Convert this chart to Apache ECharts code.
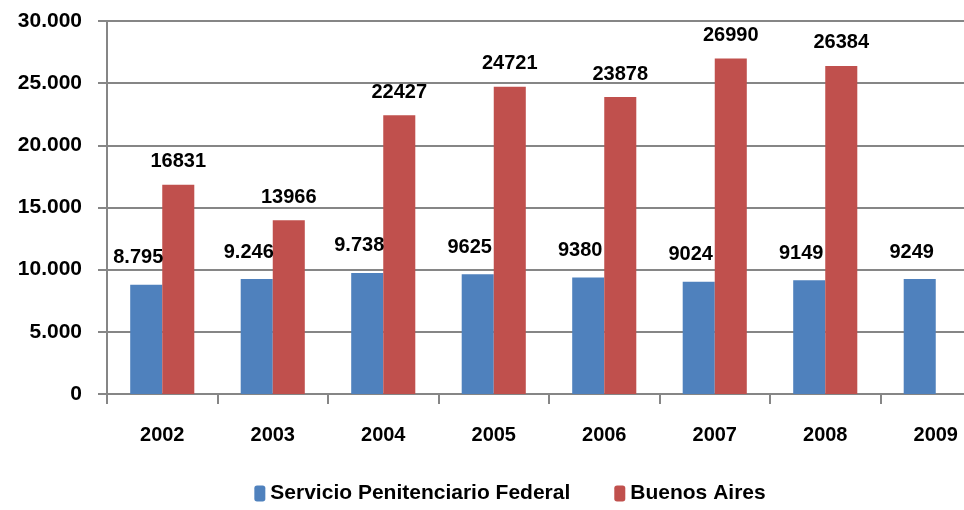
<!DOCTYPE html>
<html>
<head>
<meta charset="utf-8">
<script src="https://cdn.jsdelivr.net/npm/echarts@6/dist/echarts.min.js"></script>
<style>
  html, body { margin: 0; padding: 0; background: #fff; overflow: hidden; }
  #chart { width: 1020px; height: 510px; }
</style>
</head>
<body>
<div id="chart"></div>
<script>
const years = ['2002', '2003', '2004', '2005', '2006', '2007', '2008', '2009']
const federal = [8795, 9246, 9738, 9625, 9380, 9024, 9149, 9249]
const federalLabels = ['8.795', '9.246', '9.738', '9625', '9380', '9024', '9149', '9249']
const buenosAires = [16831, 13966, 22427, 24721, 23878, 26990, 26384, null]
const buenosAiresLabels = ['16831', '13966', '22427', '24721', '23878', '26990', '26384', '']
const colors = ['#4F81BD', '#C0504D']
const font = 'Liberation Sans, Arial, sans-serif'
const gray = '#868686'

// the original chart is wider than the window, its right end is cut off
const chart = echarts.init(document.getElementById('chart'))
chart.setOption({
  animation: false,
  color: colors,
  textStyle: { fontFamily: font },
  grid: {
    left: 107,
    top: 21,
    bottom: 116,
    right: 29
  },
  legend: {
    bottom: 1,
    left: 'center',
    itemWidth: 11,
    itemHeight: 16,
    itemGap: 44,
    textStyle: { fontSize: 21, fontWeight: 'bold', color: '#000', fontFamily: font },
    data: ['Servicio Penitenciario Federal', 'Buenos Aires']
  },
  xAxis: {
    type: 'category',
    data: years,
    axisLine: { lineStyle: { color: gray, width: 2 } },
    axisTick: { show: true, length: 10, lineStyle: { color: gray, width: 2 } },
    axisLabel: { margin: 31, fontSize: 20, fontWeight: 'bold', color: '#000' }
  },
  yAxis: {
    type: 'value',
    min: 0,
    max: 30000,
    interval: 5000,
    axisLine: { show: true, lineStyle: { color: gray, width: 2 } },
    axisTick: { show: true, length: 9, lineStyle: { color: gray, width: 2 } },
    splitLine: { lineStyle: { color: gray, width: 2 } },
    axisLabel: {
      margin: 25,
      fontSize: 21,
      fontWeight: 'bold',
      color: '#000',
      formatter: function (v) {
        return v === 0 ? '0' : (v / 1000) + '.000'
      }
    }
  },
  series: [
    {
      name: 'Servicio Penitenciario Federal',
      type: 'bar',
      data: federal,
      barGap: '0%',
      barCategoryGap: '42%',
      label: {
        show: true,
        position: 'top',
        distance: 17,
        offset: [-8, 0],
        fontSize: 20,
        fontWeight: 'bold',
        color: '#000',
        formatter: function (p) { return federalLabels[p.dataIndex] }
      }
    },
    {
      name: 'Buenos Aires',
      type: 'bar',
      data: buenosAires,
      label: {
        show: true,
        position: 'top',
        distance: 13,
        fontSize: 20,
        fontWeight: 'bold',
        color: '#000',
        formatter: function (p) { return buenosAiresLabels[p.dataIndex] }
      }
    }
  ]
})
</script>
</body>
</html>
